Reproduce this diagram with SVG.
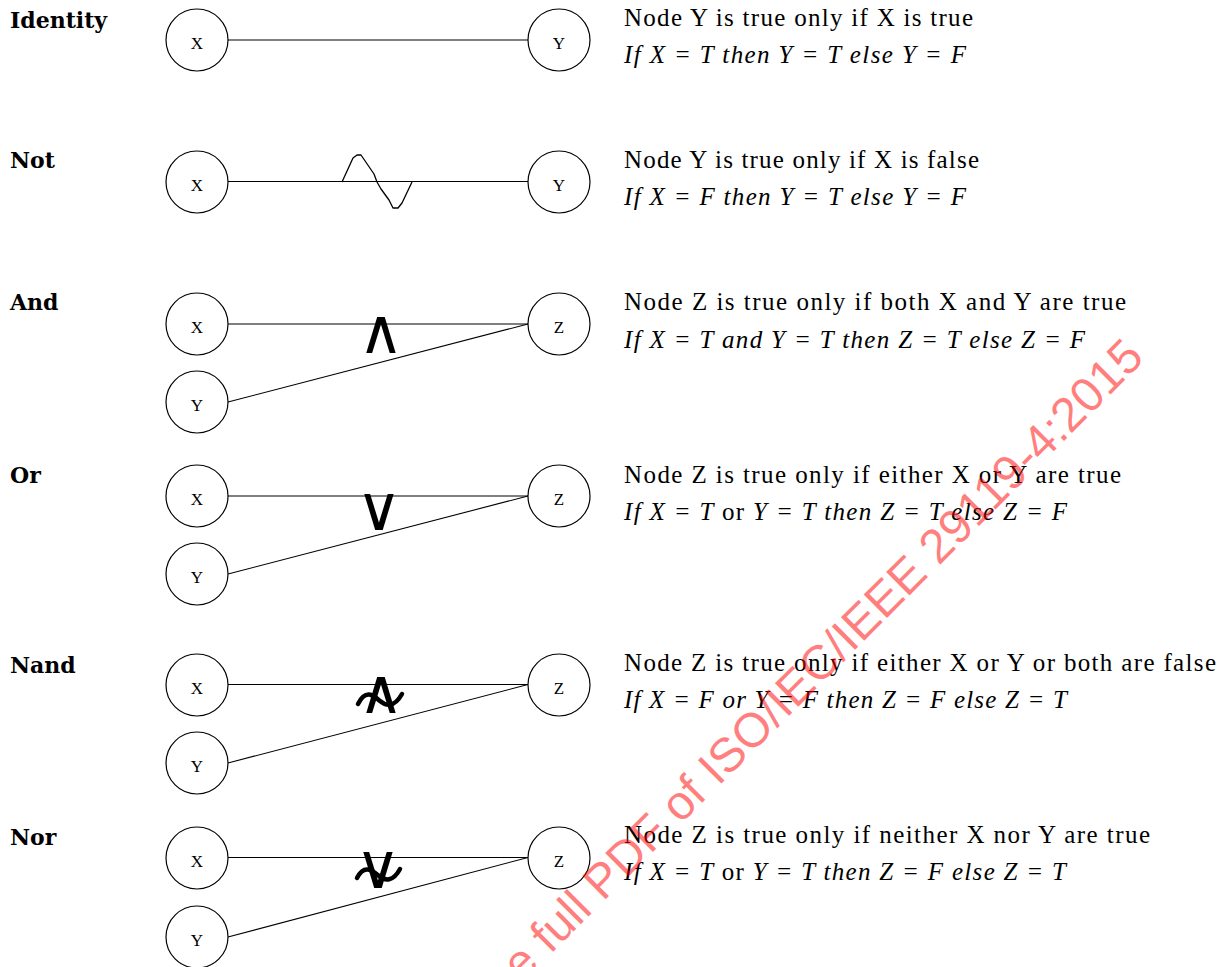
<svg xmlns="http://www.w3.org/2000/svg" width="1231" height="967" viewBox="0 0 1231 967">
<style>
.bg{fill:#fff}
.node circle{fill:#fff;stroke:#000;stroke-width:1.2}
.node text{font-family:"Liberation Serif",serif;font-size:17px;text-anchor:middle;fill:#000}
.edge{stroke:#000;stroke-width:1.1;fill:none}
.wave{stroke:#000;stroke-width:1.3;fill:none;stroke-linejoin:round}
.tilde{stroke:#000;stroke-width:4.5;fill:none;stroke-linecap:round}
.sym{font-family:"DejaVu Sans",sans-serif;font-size:62px;text-anchor:middle;fill:#000}
.title{font-family:"DejaVu Serif",serif;font-weight:bold;font-size:22px;fill:#000}
.desc{font-family:"Liberation Serif",serif;font-size:25px;fill:#000}
.rule{font-family:"Liberation Serif",serif;font-size:25px;font-style:italic;fill:#000}
.up{font-style:normal}
.wm{font-family:"Liberation Sans",sans-serif;font-size:48px;fill:#ff0000;fill-opacity:0.5}
</style>
<rect class="bg" x="0" y="0" width="1231" height="967"/>

<g id="connectors">
  <line class="edge" x1="228" y1="40" x2="528" y2="40"/>
  <line class="edge" x1="228" y1="181.5" x2="528" y2="181.5"/>
  <path class="wave" d="M342,182 L353,158 L357,155 L361,155 L374,174 L377,182 L381,189 L389,200 L393,208 L398,208 L402,203 L412,182"/>
  <line class="edge" x1="228" y1="324" x2="528" y2="324"/>
  <line class="edge" x1="228" y1="402" x2="528" y2="324"/>
  <line class="edge" x1="228" y1="496" x2="528" y2="496"/>
  <line class="edge" x1="228" y1="574" x2="528" y2="496"/>
  <line class="edge" x1="228" y1="684.5" x2="528" y2="684.5"/>
  <line class="edge" x1="228" y1="763" x2="528" y2="684.5"/>
  <line class="edge" x1="228" y1="857.5" x2="528" y2="857.5"/>
  <line class="edge" x1="228" y1="937" x2="528" y2="857.5"/>
  <text class="sym" x="381" y="353">∧</text>
  <text class="sym" x="379" y="530">∨</text>
  <text class="sym" x="381" y="713">∧</text>
  <path class="tilde" d="M358,704 C366,688 374,696 380,701 C386,706 394,708 402,694"/>
  <text class="sym" x="378" y="888">∨</text>
  <path class="tilde" d="M357,878 C364,864 372,870 379,876 C385,881 393,882 400,869"/>
</g>

<g id="identity">
  <text class="title" x="10" y="28">Identity</text>
  <g id="identity-x" class="node"><circle cx="197" cy="40" r="31"/><text x="197" y="48.5">X</text></g>
  <g id="identity-y" class="node"><circle cx="559" cy="40" r="31"/><text x="559" y="48.5">Y</text></g>
  <text class="desc" x="624" y="26" textLength="349" lengthAdjust="spacing">Node Y is true only if X is true</text>
  <text class="rule" x="624" y="63" textLength="342" lengthAdjust="spacing">If X = T then Y = T else Y = F</text>
</g>

<g id="not">
  <text class="title" x="10" y="168">Not</text>
  <g id="not-x" class="node"><circle cx="197" cy="182" r="31"/><text x="197" y="190.5">X</text></g>
  <g id="not-y" class="node"><circle cx="559" cy="182" r="31"/><text x="559" y="190.5">Y</text></g>
  <text class="desc" x="624" y="168" textLength="355" lengthAdjust="spacing">Node Y is true only if X is false</text>
  <text class="rule" x="624" y="205" textLength="342" lengthAdjust="spacing">If X = F then Y = T else Y = F</text>
</g>

<g id="and">
  <text class="title" x="10" y="310">And</text>
  <g id="and-x" class="node"><circle cx="197" cy="324" r="31"/><text x="197" y="332.5">X</text></g>
  <g id="and-y" class="node"><circle cx="197" cy="402" r="31"/><text x="197" y="410.5">Y</text></g>
  <g id="and-z" class="node"><circle cx="559" cy="324" r="31"/><text x="559" y="332.5">Z</text></g>
  <text class="desc" x="624" y="310" textLength="502" lengthAdjust="spacing">Node Z is true only if both X and Y are true</text>
  <text class="rule" x="624" y="348" textLength="461" lengthAdjust="spacing">If X = T and Y = T then Z = T else Z = F</text>
</g>

<g id="or">
  <text class="title" x="10" y="483">Or</text>
  <g id="or-x" class="node"><circle cx="197" cy="496" r="31"/><text x="197" y="504.5">X</text></g>
  <g id="or-y" class="node"><circle cx="197" cy="574" r="31"/><text x="197" y="582.5">Y</text></g>
  <g id="or-z" class="node"><circle cx="559" cy="496" r="31"/><text x="559" y="504.5">Z</text></g>
  <text class="desc" x="624" y="483" textLength="497" lengthAdjust="spacing">Node Z is true only if either X or Y are true</text>
  <text class="rule" x="624" y="520" textLength="443" lengthAdjust="spacing">If X = T <tspan class="up">or</tspan> Y = T then Z = T else Z = F</text>
</g>

<g id="nand">
  <text class="title" x="10" y="673">Nand</text>
  <g id="nand-x" class="node"><circle cx="197" cy="685" r="31"/><text x="197" y="693.5">X</text></g>
  <g id="nand-y" class="node"><circle cx="197" cy="763" r="31"/><text x="197" y="771.5">Y</text></g>
  <g id="nand-z" class="node"><circle cx="559" cy="685" r="31"/><text x="559" y="693.5">Z</text></g>
  <text class="desc" x="624" y="671" textLength="592" lengthAdjust="spacing">Node Z is true only if either X or Y or both are false</text>
  <text class="rule" x="624" y="708" textLength="443" lengthAdjust="spacing">If X = F or Y = F then Z = F else Z = T</text>
</g>

<g id="nor">
  <text class="title" x="10" y="845">Nor</text>
  <g id="nor-x" class="node"><circle cx="197" cy="858" r="31"/><text x="197" y="866.5">X</text></g>
  <g id="nor-y" class="node"><circle cx="197" cy="937" r="31"/><text x="197" y="945.5">Y</text></g>
  <g id="nor-z" class="node"><circle cx="559" cy="858" r="31"/><text x="559" y="866.5">Z</text></g>
  <text class="desc" x="624" y="843" textLength="526" lengthAdjust="spacing">Node Z is true only if neither X nor Y are true</text>
  <text class="rule" x="624" y="880" textLength="442" lengthAdjust="spacing">If X = T <tspan class="up">or</tspan> Y = T then Z = F else Z = T</text>
</g>

<text class="wm" transform="translate(522,983) rotate(-45)">e full PDF of ISO/IEC/IEEE 29119-4:2015</text>
</svg>
